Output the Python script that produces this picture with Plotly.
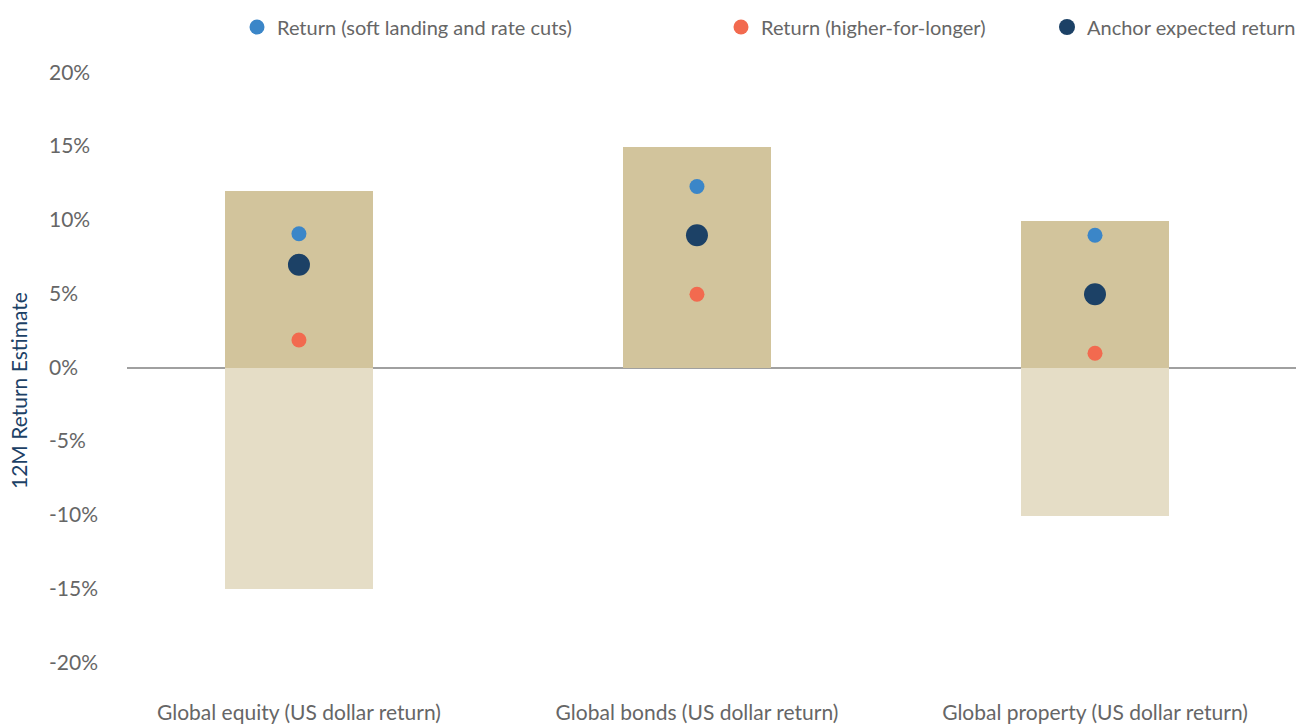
import plotly.graph_objects as go

categories = ["Global equity (US dollar return)", "Global bonds (US dollar return)", "Global property (US dollar return)"]
range_high = [12, 15, 10]
range_low = [-15, 0, -10]
ret_soft = [9.1, 12.3, 9.0]
ret_higher = [1.9, 5.0, 1.0]
anchor = [7.0, 9.0, 5.0]
y_ticks = [20, 15, 10, 5, 0, -5, -10, -15, -20]

W, H = 1308, 727
L, R, T, B = 127, 12, 73, 64
FONT = "Lato, 'Open Sans', sans-serif"
GRAY = "#666666"

fig = go.Figure()
fig.add_trace(go.Bar(x=categories, y=range_high, base=[0]*3, width=0.37,
                     marker=dict(color="#D2C49C", line=dict(width=0)), showlegend=False, hoverinfo="skip"))
fig.add_trace(go.Bar(x=categories, y=[-v for v in range_low], base=range_low, width=0.37,
                     marker=dict(color="#E5DDC6", line=dict(width=0)), showlegend=False, hoverinfo="skip"))
fig.add_trace(go.Scatter(x=categories, y=ret_soft, mode="markers", name="Return (soft landing and rate cuts)",
                         marker=dict(color="#3B86C8", size=15), legend="legend"))
fig.add_trace(go.Scatter(x=categories, y=ret_higher, mode="markers", name="Return (higher-for-longer)",
                         marker=dict(color="#F26A4F", size=15), legend="legend2"))
fig.add_trace(go.Scatter(x=categories, y=anchor, mode="markers", name="Anchor expected return",
                         marker=dict(color="#1C4166", size=22), legend="legend3"))

def leg(px):
    return dict(x=px / W, y=1 - 27 / H, xref="container", yref="container", xanchor="left", yanchor="middle",
                font=dict(family=FONT, size=20, color=GRAY), bgcolor="rgba(0,0,0,0)", itemsizing="trace",
                itemwidth=30, borderwidth=0)

annotations = []
for v in y_ticks:
    annotations.append(dict(x=(47 - L) / (W - L - R), xref="paper", y=v, yref="y", xanchor="left", yanchor="middle",
                            yshift=2, text=f"{v}%", showarrow=False, font=dict(family=FONT, size=21, color=GRAY)))
annotations.append(dict(x=(19 - L) / (W - L - R), xref="paper", y=(H - B - 391) / (H - T - B), yref="paper",
                        xanchor="center", yanchor="middle", textangle=-90, text="12M Return Estimate",
                        showarrow=False, font=dict(family=FONT, size=21, color="#1C4166")))

fig.update_layout(
    width=W, height=H, margin=dict(l=L, r=R, t=T, b=B, autoexpand=False),
    paper_bgcolor="white", plot_bgcolor="white",
    barmode="overlay", bargap=0,
    font=dict(family=FONT, size=18, color=GRAY),
    legend=leg(237), legend2=leg(721), legend3=leg(1047),
    annotations=annotations,
    xaxis=dict(type="category", range=[-0.432, 2.505], showgrid=False, showline=False, zeroline=False,
               ticks="", tickangle=0, automargin=False,
               tickfont=dict(family=FONT, size=21, color=GRAY), ticklabelstandoff=35),
    yaxis=dict(range=[-20, 20], tickvals=y_ticks, showticklabels=False, showgrid=False, showline=False,
               automargin=False, zeroline=True, zerolinecolor="#A0A0A0", zerolinewidth=1.5),
)

fig.write_html("out.html")
